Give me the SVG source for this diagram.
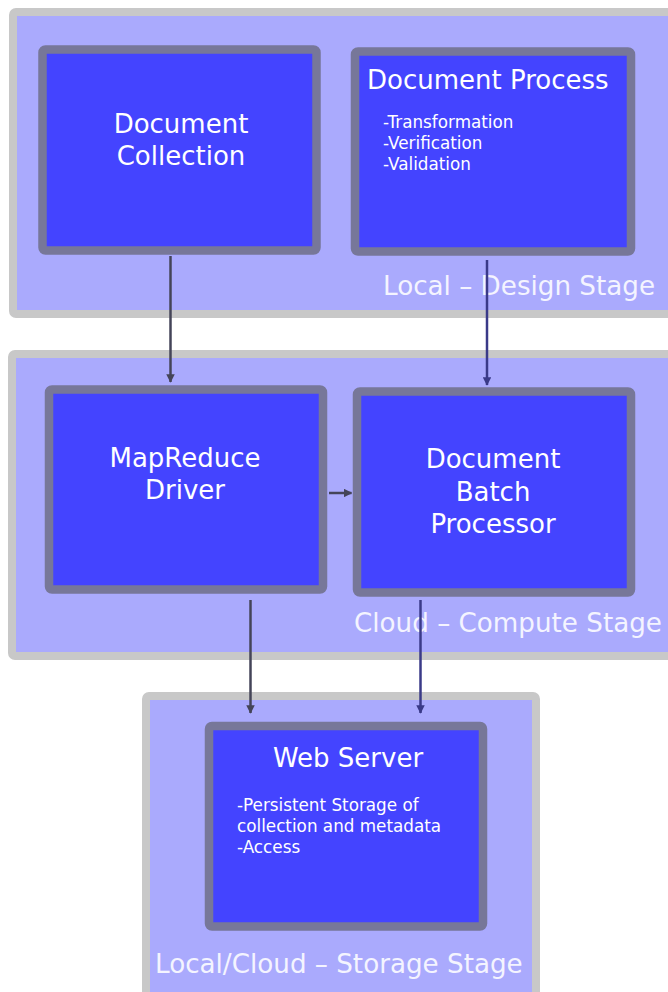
<svg xmlns="http://www.w3.org/2000/svg" width="668" height="992" viewBox="0 0 668 992">
<style>
.stage{fill:#aaaafd;stroke:#c8c8c8;stroke-width:8;}
.node{fill:#4444ff;stroke:#777799;stroke-width:8.5;}
.t{font-family:"DejaVu Sans","Liberation Sans",sans-serif;fill:#ffffff;}
.big{font-size:26px;}
.small{font-size:16.8px;}
.lbl{font-size:26.2px;fill:#f4f4ff;}
.c1{stroke:#444458;stroke-width:2.5;fill:none;}
.c2{stroke:#3a3a88;stroke-width:2.5;fill:none;}
</style>
<defs>
<marker id="a1" viewBox="0 0 10 10" refX="9" refY="5" markerWidth="3.4" markerHeight="3.4" orient="auto" markerUnits="strokeWidth">
<path d="M0,0 L10,5 L0,10 z" fill="#444458"/>
</marker>
<marker id="a2" viewBox="0 0 10 10" refX="9" refY="5" markerWidth="3.4" markerHeight="3.4" orient="auto" markerUnits="strokeWidth">
<path d="M0,0 L10,5 L0,10 z" fill="#3a3a88"/>
</marker>
</defs>
<rect width="668" height="992" fill="#ffffff"/>

<g id="stage-design">
<rect class="stage" x="13" y="12" width="670" height="302" rx="3"/>
<text class="t lbl" x="383" y="295">Local – Design Stage</text>
</g>
<g id="stage-compute">
<rect class="stage" x="12" y="354" width="670" height="302" rx="3"/>
<text class="t lbl" x="354" y="632">Cloud – Compute Stage</text>
</g>
<g id="stage-storage">
<rect class="stage" x="146" y="696" width="390" height="310" rx="3"/>
<text class="t lbl" x="155" y="973">Local/Cloud – Storage Stage</text>
</g>

<g id="document-collection">
<rect class="node" x="42.5" y="49.5" width="274" height="201" rx="3"/>
<text class="t big" x="181" y="133" text-anchor="middle">Document</text>
<text class="t big" x="181" y="165" text-anchor="middle">Collection</text>
</g>
<g id="document-process">
<rect class="node" x="355" y="51.5" width="276" height="200" rx="3"/>
<text class="t big" x="367" y="89">Document Process</text>
<text class="t small" x="383" y="128">-Transformation</text>
<text class="t small" x="383" y="149">-Verification</text>
<text class="t small" x="383" y="170">-Validation</text>
</g>
<g id="mapreduce-driver">
<rect class="node" x="49" y="389.5" width="274" height="200" rx="3"/>
<text class="t big" x="185" y="467" text-anchor="middle">MapReduce</text>
<text class="t big" x="185" y="499" text-anchor="middle">Driver</text>
</g>
<g id="document-batch-processor">
<rect class="node" x="357" y="391.5" width="274" height="201" rx="3"/>
<text class="t big" x="493" y="468" text-anchor="middle">Document</text>
<text class="t big" x="493" y="501" text-anchor="middle">Batch</text>
<text class="t big" x="493" y="533" text-anchor="middle">Processor</text>
</g>
<g id="web-server">
<rect class="node" x="209" y="726" width="274" height="200.5" rx="3"/>
<text class="t big" x="348" y="767" text-anchor="middle">Web Server</text>
<text class="t small" x="237" y="811">-Persistent Storage of</text>
<text class="t small" x="237" y="832">collection and metadata</text>
<text class="t small" x="237" y="853">-Access</text>
</g>

<g id="connectors">
<line class="c1" x1="170.5" y1="256" x2="170.5" y2="382" marker-end="url(#a1)"/>
<line class="c2" x1="487" y1="260" x2="487" y2="385" marker-end="url(#a2)"/>
<line class="c1" x1="329" y1="493" x2="351.5" y2="493" marker-end="url(#a1)"/>
<line class="c1" x1="250.5" y1="600" x2="250.5" y2="713" marker-end="url(#a1)"/>
<line class="c2" x1="420.5" y1="600" x2="420.5" y2="713" marker-end="url(#a2)"/>
</g>
</svg>
